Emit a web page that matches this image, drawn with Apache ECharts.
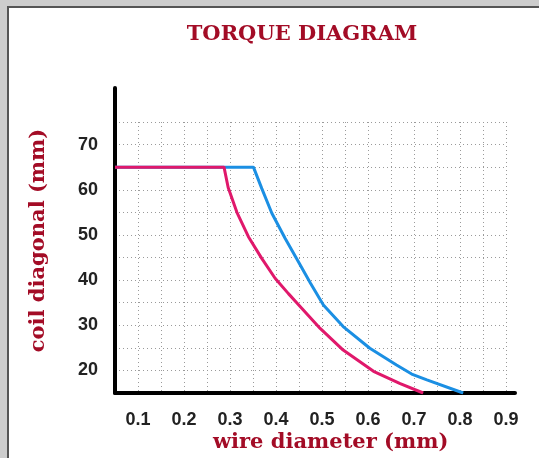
<!DOCTYPE html>
<html>
<head>
<meta charset="utf-8">
<script src="https://cdn.jsdelivr.net/npm/echarts@6/dist/echarts.min.js"></script>
<style>
  html, body { margin: 0; padding: 0; width: 539px; height: 458px; overflow: hidden; background: #cdcdcd; }
  #panel { position: absolute; left: 7px; top: 6px; width: 540px; height: 460px; background: #ffffff; border-left: 2px solid #555; border-top: 2px solid #555; }
  #chart { position: absolute; left: 0; top: 0; width: 539px; height: 458px; }
</style>
</head>
<body>
<div id="panel"></div>
<div id="chart"></div>
<script>
// Data
const titleText = 'TORQUE DIAGRAM';
const xAxisName = 'wire diameter (mm)';
const yAxisName = 'coil diagonal (mm)';
const xTickLabels = ['0.1', '0.2', '0.3', '0.4', '0.5', '0.6', '0.7', '0.8', '0.9'];
const yTickLabels = ['20', '30', '40', '50', '60', '70'];
const blueSeries = [
  [0.05, 65], [0.351, 65], [0.369, 60.3], [0.391, 54.8], [0.42, 49.2], [0.449, 44.0],
  [0.475, 39.3], [0.503, 34.5], [0.546, 29.7], [0.604, 24.9], [0.662, 21.2],
  [0.695, 19.2], [0.728, 17.9], [0.807, 15]
];
const pinkSeries = [
  [0.05, 65], [0.287, 65], [0.296, 60.5], [0.315, 55], [0.34, 49.6], [0.369, 44.8],
  [0.398, 40.4], [0.427, 37.0], [0.445, 35.0], [0.496, 29.3], [0.546, 24.5],
  [0.612, 19.8], [0.67, 17.1], [0.72, 15]
];

const chart = echarts.init(document.getElementById('chart'));
const tickFont = { fontFamily: 'Liberation Sans', fontWeight: 'bold', fontSize: 18, color: '#222' };
const gridLine = { show: true, lineStyle: { color: '#9a9a9a', type: [1, 3], width: 1 } };

chart.setOption({
  animation: false,
  title: {
    text: titleText,
    left: 297, top: 19, textAlign: 'center',
    textStyle: { fontFamily: 'DejaVu Serif', fontWeight: 'bold', fontSize: 21, color: '#a30c26' }
  },
  graphic: [{
    type: 'text', left: 331 - 118, top: 432,
    style: { text: xAxisName, fontFamily: 'DejaVu Serif', fontWeight: 'bold', fontSize: 21, fill: '#a30c26' }
  }],
  grid: [
    { left: 115, top: 122, width: 391, height: 271 },
    { left: 115, top: 88, width: 400, height: 305 }
  ],
  xAxis: [
    {
      gridIndex: 0, type: 'value', min: 0.05, max: 0.9, interval: 0.05,
      axisLine: { show: false }, axisTick: { show: false }, splitLine: gridLine,
      axisLabel: Object.assign({}, tickFont, {
        margin: 18,
        formatter: function (v) {
          const s = (Math.round(v * 100) / 100).toFixed(2);
          const t = s.slice(0, 3);
          return (s.endsWith('0') && xTickLabels.indexOf(t) >= 0) ? t : '';
        }
      })
    },
    {
      gridIndex: 1, type: 'value', min: 0, max: 1,
      axisLine: { show: true, lineStyle: { color: '#000', width: 4 } },
      axisTick: { show: false }, axisLabel: { show: false }, splitLine: { show: false }
    }
  ],
  yAxis: [
    {
      gridIndex: 0, type: 'value', min: 15, max: 75, interval: 5,
      axisLine: { show: false }, axisTick: { show: false }, splitLine: gridLine,
      axisLabel: Object.assign({}, tickFont, {
        margin: 17,
        formatter: function (v) {
          const s = String(Math.round(v));
          return yTickLabels.indexOf(s) >= 0 ? s : '';
        }
      })
    },
    {
      gridIndex: 1, type: 'value', min: 0, max: 1,
      name: yAxisName, nameLocation: 'middle', nameRotate: 90, nameGap: 66,
      nameTextStyle: { fontFamily: 'DejaVu Serif', fontWeight: 'bold', fontSize: 21, color: '#a30c26' },
      axisLine: { show: true, lineStyle: { color: '#000', width: 4 } },
      axisTick: { show: false }, axisLabel: { show: false }, splitLine: { show: false }
    }
  ],
  series: [
    {
      type: 'line', xAxisIndex: 0, yAxisIndex: 0, data: blueSeries,
      showSymbol: false, lineStyle: { color: '#1b8fe3', width: 3 }, z: 3
    },
    {
      type: 'line', xAxisIndex: 0, yAxisIndex: 0, data: pinkSeries,
      showSymbol: false, lineStyle: { color: '#e0186b', width: 3 }, z: 4
    }
  ]
});
</script>
</body>
</html>
